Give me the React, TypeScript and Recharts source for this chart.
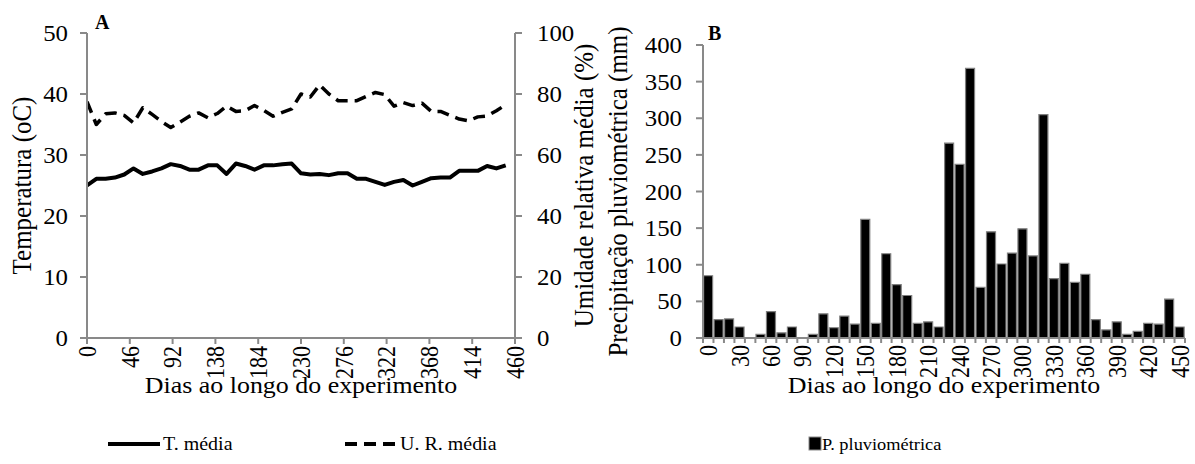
import React from 'react';
import { LineChart, Line, BarChart, Bar, XAxis, YAxis, Legend } from 'recharts';

// ---------- data ----------
const DAYS = [0, 10, 20, 30, 40, 50, 60, 70, 80, 90, 100, 110, 120, 130, 140, 150, 160, 170, 180, 190, 200, 210, 220, 230, 240, 250, 260, 270, 280, 290, 300, 310, 320, 330, 340, 350, 360, 370, 380, 390, 400, 410, 420, 430, 440, 450];
const TEMP = [25.0, 26.1, 26.1, 26.3, 26.8, 27.8, 26.9, 27.3, 27.8, 28.5, 28.2, 27.6, 27.6, 28.3, 28.3, 26.9, 28.6, 28.2, 27.6, 28.3, 28.3, 28.5, 28.6, 27.0, 26.8, 26.9, 26.7, 27.0, 27.0, 26.1, 26.1, 25.6, 25.1, 25.6, 25.9, 25.0, 25.6, 26.2, 26.3, 26.3, 27.4, 27.4, 27.4, 28.2, 27.8, 28.3];
const HUMIDITY = [77.5, 70, 73.5, 73.8, 73, 70.5, 75.5, 73.3, 71, 69, 70.8, 72.7, 73.8, 72.2, 73.6, 76, 74.3, 74.5, 76.2, 74.6, 72.7, 74, 75.1, 80, 79, 83, 80, 77.8, 77.8, 77.8, 79.2, 80.5, 79.8, 76, 77.2, 76.2, 77, 74.3, 74.3, 73, 71.8, 71.2, 72.5, 72.8, 74.5, 76.5];
const RAIN = [85, 25, 26, 15, 0, 5, 36, 7, 15, 0, 5, 33, 14, 30, 19, 162, 20, 115, 73, 58, 20, 22, 15, 266, 237, 368, 69, 145, 101, 116, 149, 112, 305, 81, 102, 76, 87, 25, 11, 22, 5, 9, 20, 19, 53, 15];

const TICKS_A_X = [0, 46, 92, 138, 184, 230, 276, 322, 368, 414, 460];
const TICKS_A_LEFT = [0, 10, 20, 30, 40, 50];
const TICKS_A_RIGHT = [0, 20, 40, 60, 80, 100];
const TICKS_B_Y = [0, 50, 100, 150, 200, 250, 300, 350, 400];
const LABELS_B_X = [0, 30, 60, 90, 120, 150, 180, 210, 240, 270, 300, 330, 360, 390, 420, 450];
const BOUNDS_B_X = [-5, 5, 15, 25, 35, 45, 55, 65, 75, 85, 95, 105, 115, 125, 135, 145, 155, 165, 175, 185, 195, 205, 215, 225, 235, 245, 255, 265, 275, 285, 295, 305, 315, 325, 335, 345, 355, 365, 375, 385, 395, 405, 415, 425, 435, 445, 455];

const X_TITLE = 'Dias ao longo do experimento';
const Y_TITLE_A_LEFT = 'Temperatura (oC)';
const Y_TITLE_A_RIGHT = 'Umidade relativa média (%)';
const Y_TITLE_B = 'Precipitação pluviométrica (mm)';
const NAME_TEMP = 'T. média';
const NAME_HUM = 'U. R. média';
const NAME_RAIN = 'P. pluviométrica';

// ---------- style ----------
const FONT = '"Liberation Serif", "Times New Roman", serif';
const FS = 23;
const FS_ROT = 22;
const FS_TITLE = 24;
const FS_YTITLE = 25;
const FS_LEG = 18.5;
const SX = 1.08;
const AXIS = '#898989';
const DASH = '12 7';

const YTick = (props: any) => {
  const { x, y, payload, textAnchor } = props;
  return (
    <text transform={`translate(${x},${y}) scale(${SX},1)`} textAnchor={textAnchor} dy="0.35em" fontFamily={FONT} fontSize={FS} fill="#000">
      {payload.value}
    </text>
  );
};

const RotTick = (props: any) => {
  const { x, y, payload } = props;
  return (
    <text transform={`translate(${x},${y}) rotate(-90) scale(1,1.15)`} textAnchor="end" dy="0.35em" fontFamily={FONT} fontSize={FS_ROT} fill="#000">
      {payload.value}
    </text>
  );
};

const BTick = (props: any) => {
  const { x, y, payload } = props;
  if (LABELS_B_X.includes(payload.value)) {
    return (
      <text transform={`translate(${x},${y + 7}) rotate(-90) scale(1,1.15)`} textAnchor="end" dy="0.35em" fontFamily={FONT} fontSize={FS_ROT} fill="#000">
        {payload.value}
      </text>
    );
  }
  return <line x1={x} x2={x} y1={y} y2={y + 5} stroke={AXIS} strokeWidth={2} />;
};

const xTitle = (p: any) => {
  const vb = p.viewBox;
  return (
    <text transform={`translate(${vb.x + vb.width / 2},${vb.y + 55}) scale(${SX},1)`} textAnchor="middle" fontFamily={FONT} fontSize={FS_TITLE} fill="#000">
      {X_TITLE}
    </text>
  );
};

const yTitle = (text: string, dx: number) => (p: any) => {
  const vb = p.viewBox;
  return (
    <text transform={`translate(${vb.x + dx},${vb.y + vb.height / 2}) rotate(-90) scale(1,${SX})`} textAnchor="middle" fontFamily={FONT} fontSize={FS_YTITLE} fill="#000">
      {text}
    </text>
  );
};

const LegendA = (p: any) => {
  const items = p.payload || [];
  const pos = [108, 345];
  return (
    <svg width={600} height={30}>
      {items.map((it: any, i: number) => (
        <g key={i}>
          <line x1={pos[i]} x2={pos[i] + 52} y1={14} y2={14} stroke="#000" strokeWidth={4} strokeDasharray={i === 1 ? DASH : undefined} />
          <text transform={`translate(${pos[i] + 55},20) scale(${SX},1)`} fontFamily={FONT} fontSize={FS_LEG} fill="#000">{it.value}</text>
        </g>
      ))}
    </svg>
  );
};

const LegendB = (p: any) => {
  const items = p.payload || [];
  return (
    <svg width={595} height={30}>
      {items.map((it: any, i: number) => (
        <g key={i}>
          <rect x={209} y={7} width={12} height={13} fill="#000" stroke={AXIS} strokeWidth={1} />
          <text transform={`translate(222,20) scale(${SX},1)`} fontFamily={FONT} fontSize={17} fill="#000">{it.value}</text>
        </g>
      ))}
    </svg>
  );
};

export default function App() {
  const dataA = DAYS.map((d, i) => ({ day: d, temp: TEMP[i], hum: HUMIDITY[i] }));
  const dataB = DAYS.map((d, i) => ({ day: d, rain: RAIN[i] }));
  const axisLine = { stroke: AXIS, strokeWidth: 2 };
  return (
    <div style={{ position: 'absolute', left: 0, top: 0, width: 1195, height: 464, background: '#fff', overflow: 'hidden' }}>
      <div style={{ position: 'absolute', left: 0, top: 0 }}>
        <LineChart width={600} height={464} data={dataA} margin={{ top: 33, right: 0, bottom: 66, left: 0 }}>
          <XAxis dataKey="day" type="number" domain={[0, 460]} ticks={TICKS_A_X} interval={0} allowDataOverflow
            axisLine={axisLine} tickLine={axisLine} tickSize={6} tickMargin={2} height={60} tick={<RotTick />} label={xTitle} />
          <YAxis yAxisId="t" domain={[0, 50]} ticks={TICKS_A_LEFT} interval={0} width={87} allowDataOverflow
            axisLine={axisLine} tickLine={axisLine} tickSize={7} tickMargin={12} tick={<YTick />} label={yTitle(Y_TITLE_A_LEFT, 31)} />
          <YAxis yAxisId="h" orientation="right" domain={[0, 100]} ticks={TICKS_A_RIGHT} interval={0} width={85} allowDataOverflow
            axisLine={axisLine} tickLine={axisLine} tickSize={7} tickMargin={15} tick={<YTick />} label={yTitle(Y_TITLE_A_RIGHT, 78)} />
          <Line yAxisId="t" type="linear" dataKey="temp" name={NAME_TEMP} stroke="#000" strokeWidth={4} dot={false} isAnimationActive={false} strokeLinejoin="round" />
          <Line yAxisId="h" type="linear" dataKey="hum" name={NAME_HUM} stroke="#000" strokeWidth={3.5} strokeDasharray={DASH} dot={false} isAnimationActive={false} strokeLinejoin="round" />
          <Legend layout="vertical" align="center" verticalAlign="middle" content={<LegendA />}
            wrapperStyle={{ left: 0, top: 430, width: 600, height: 30 }} />
        </LineChart>
      </div>
      <div style={{ position: 'absolute', left: 600, top: 0 }}>
        <BarChart width={595} height={464} data={dataB} margin={{ top: 45, right: 10, bottom: 66, left: 0 }} barCategoryGap={0.6}>
          <XAxis xAxisId="num" dataKey="day" type="number" domain={[-5, 455]} allowDataOverflow
            ticks={[...BOUNDS_B_X, ...LABELS_B_X].sort((a, b) => a - b)} interval={0}
            axisLine={axisLine} tickLine={false} tickSize={0} tickMargin={0} height={60} tick={<BTick />} label={xTitle} />
          <XAxis xAxisId="cat" dataKey="day" type="category" hide height={0} orientation="top" />
          <YAxis domain={[0, 400]} ticks={TICKS_B_Y} interval={0} width={103} allowDataOverflow
            axisLine={axisLine} tickLine={axisLine} tickSize={7} tickMargin={14} tick={<YTick />} label={yTitle(Y_TITLE_B, 27)} />
          <Bar xAxisId="cat" dataKey="rain" name={NAME_RAIN} fill="#000" stroke="#7f7f7f" strokeWidth={1.2} isAnimationActive={false} />
          <Legend layout="vertical" align="center" verticalAlign="middle" content={<LegendB />}
            wrapperStyle={{ left: 0, top: 430, width: 595, height: 30 }} />
        </BarChart>
      </div>
      <svg width={1195} height={464} style={{ position: 'absolute', left: 0, top: 0, pointerEvents: 'none' }}>
        <text x={95} y={29} fontFamily={FONT} fontSize={20} fontWeight="bold" fill="#000">A</text>
        <text x={708} y={40} fontFamily={FONT} fontSize={20} fontWeight="bold" fill="#000">B</text>
      </svg>
    </div>
  );
}
